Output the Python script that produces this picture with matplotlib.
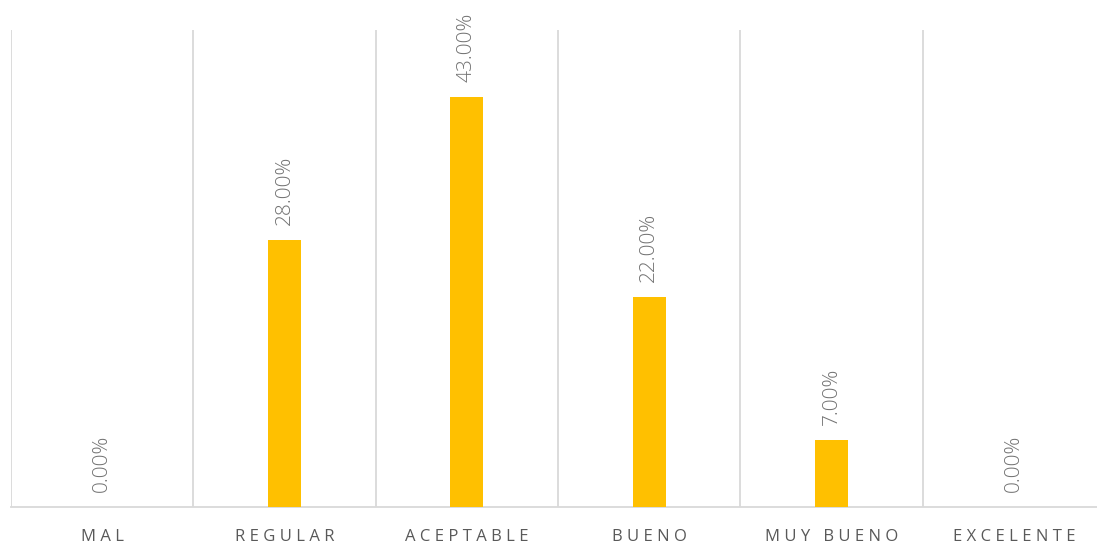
import matplotlib.pyplot as plt
import numpy as np

# datos de la encuesta
categorias = ["MAL", "REGULAR", "ACEPTABLE", "BUENO", "MUY BUENO", "EXCELENTE"]
porcentajes = [0.0, 28.0, 43.0, 22.0, 7.0, 0.0]

plt.rcParams["font.family"] = ["Open Sans", "DejaVu Sans"]

fig = plt.figure(figsize=(10.97, 5.48), dpi=100)
ax = fig.add_axes([11 / 1097, 41 / 548, 1094 / 1097, 477 / 548])

x = np.arange(len(categorias))
ax.bar(x, porcentajes, width=0.18, color="#FFC000", zorder=3)

for xi, v in zip(x, porcentajes):
    ax.annotate(f"{v:.2f}%", (xi, v), xytext=(0, 11), textcoords="offset points",
                rotation=90, ha="center", va="bottom", fontsize=15,
                fontweight="light", color="#737373")

ax.set_xlim(-0.5, len(categorias) - 0.5)
ax.set_ylim(0, 50)

# etiquetas con espaciado entre letras
etiquetas = [" ".join(list(c)) for c in categorias]
ax.set_xticks(x)
ax.set_xticklabels(etiquetas, fontsize=12, color="#595959")
ax.tick_params(axis="x", length=0, pad=16)
ax.set_yticks([])

ax.set_xticks(np.arange(-0.5, len(categorias)), minor=True)
ax.tick_params(axis="x", which="minor", length=0)
ax.grid(which="minor", axis="x", color="#d9d9d9", linewidth=1.3, zorder=0)

for s in ["top", "left", "right"]:
    ax.spines[s].set_visible(False)
ax.spines["bottom"].set_color("#d9d9d9")
ax.spines["bottom"].set_linewidth(1.3)

fig.savefig("out.png", dpi=100)
